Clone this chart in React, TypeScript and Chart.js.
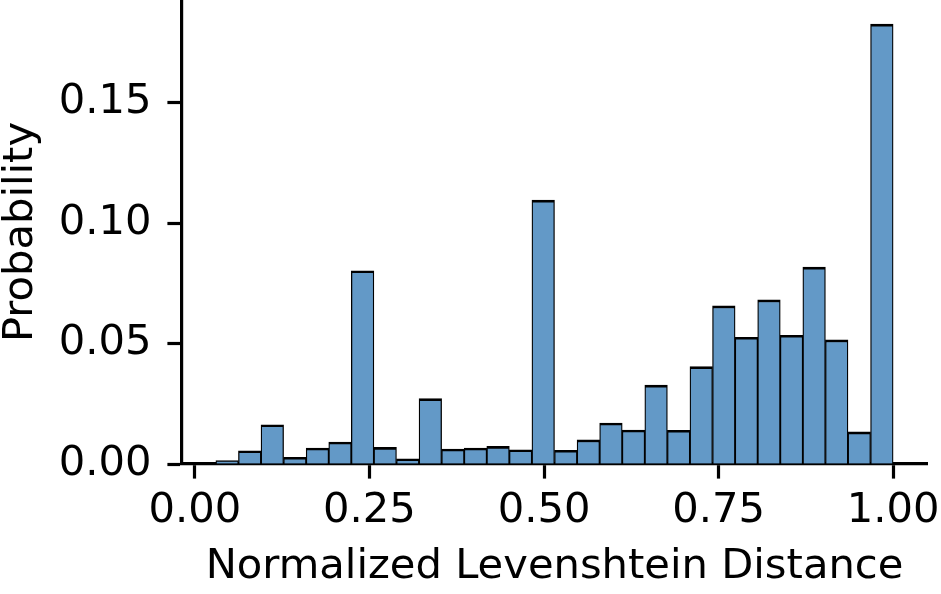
import React, { useEffect, useRef } from 'react';
import { Chart, registerables } from 'chart.js';

Chart.register(...registerables);

// Histogram definition (30 equal bins between the data min and max)
const BIN_MIN = 0.03;
const BIN_MAX = 1.0;
const PROBABILITY = [
  0.0014, 0.0055, 0.0163, 0.0028, 0.0066, 0.0091, 0.0802, 0.0069, 0.0021, 0.0271,
  0.0062, 0.0066, 0.0073, 0.0059, 0.1095, 0.0057, 0.0100, 0.0170, 0.0141, 0.0327,
  0.0140, 0.0404, 0.0656, 0.0526, 0.0681, 0.0534, 0.0817, 0.0515, 0.0133, 0.1825,
];
const X_TICKS = [0, 0.25, 0.5, 0.75, 1.0];
const Y_TICKS = [0, 0.05, 0.1, 0.15];
const X_LABEL = 'Normalized Levenshtein Distance';
const Y_LABEL = 'Probability';

const FONT = 'DejaVu Sans';
const FONT_SIZE = 41.67;

const zeroPad = (s: any) => {
  s.paddingTop = 0;
  s.paddingBottom = 0;
  s.paddingLeft = 0;
  s.paddingRight = 0;
};

export default function App() {
  const ref = useRef<HTMLCanvasElement | null>(null);

  useEffect(() => {
    if (!ref.current) return;
    const binWidth = (BIN_MAX - BIN_MIN) / PROBABILITY.length;
    const points = PROBABILITY.map((p, i) => ({ x: BIN_MIN + (i + 0.5) * binWidth, y: p }));
    const xPad = (BIN_MAX - BIN_MIN) * 0.05;
    const yMax = Math.max(...PROBABILITY) * 1.055;

    const chart = new Chart(ref.current, {
      type: 'bar',
      data: {
        datasets: [
          {
            data: points,
            backgroundColor: '#6399c7',
            borderColor: '#000000',
            borderWidth: { top: 2.6, left: 1.3, right: 1.3, bottom: 0 },
            borderSkipped: false,
            barPercentage: 1,
            categoryPercentage: 1,
            grouped: false,
          },
        ],
      },
      options: {
        animation: false,
        responsive: true,
        maintainAspectRatio: false,
        layout: { padding: { left: 0, right: 14, top: 0, bottom: 0 } },
        plugins: { legend: { display: false }, tooltip: { enabled: false } },
        scales: {
          x: {
            type: 'linear',
            offset: false,
            min: BIN_MIN - xPad,
            max: BIN_MAX + xPad,
            afterBuildTicks: (s: any) => {
              s.ticks = X_TICKS.map((v) => ({ value: v }));
            },
            afterFit: (s: any) => {
              s.height = 130;
              zeroPad(s);
            },
            grid: {
              offset: false,
              drawOnChartArea: false,
              drawTicks: true,
              tickLength: 14.6,
              tickWidth: 3.2,
              tickColor: '#000',
            },
            border: { display: true, color: '#000', width: 3.2 },
            ticks: {
              color: '#000',
              padding: 7.4,
              maxRotation: 0,
              autoSkip: false,
              font: { family: FONT, size: FONT_SIZE, lineHeight: 1.2 },
              callback: (v: any) => Number(v).toFixed(2),
            },
            title: {
              display: true,
              text: X_LABEL,
              color: '#000',
              font: { family: FONT, size: FONT_SIZE, lineHeight: 1 },
              padding: { top: 0, bottom: 6 },
            },
          },
          y: {
            type: 'linear',
            min: 0,
            max: yMax,
            afterBuildTicks: (s: any) => {
              s.ticks = Y_TICKS.map((v) => ({ value: v }));
            },
            afterFit: (s: any) => {
              s.width = 182;
              zeroPad(s);
            },
            grid: {
              drawOnChartArea: false,
              drawTicks: true,
              tickLength: 14.6,
              tickWidth: 3.2,
              tickColor: '#000',
            },
            border: { display: true, color: '#000', width: 3.2 },
            ticks: {
              color: '#000',
              padding: 16,
              autoSkip: false,
              font: { family: FONT, size: FONT_SIZE, lineHeight: 1.2 },
              callback: (v: any) => Number(v).toFixed(2),
            },
            title: {
              display: true,
              text: Y_LABEL,
              color: '#000',
              font: { family: FONT, size: FONT_SIZE, lineHeight: 1 },
              padding: { top: 0, bottom: 0 },
            },
          },
        },
      },
    });
    return () => chart.destroy();
  }, []);

  return (
    <div style={{ position: 'absolute', left: 0, top: 0, width: 941, height: 594, background: '#fff' }}>
      <canvas ref={ref} />
    </div>
  );
}
